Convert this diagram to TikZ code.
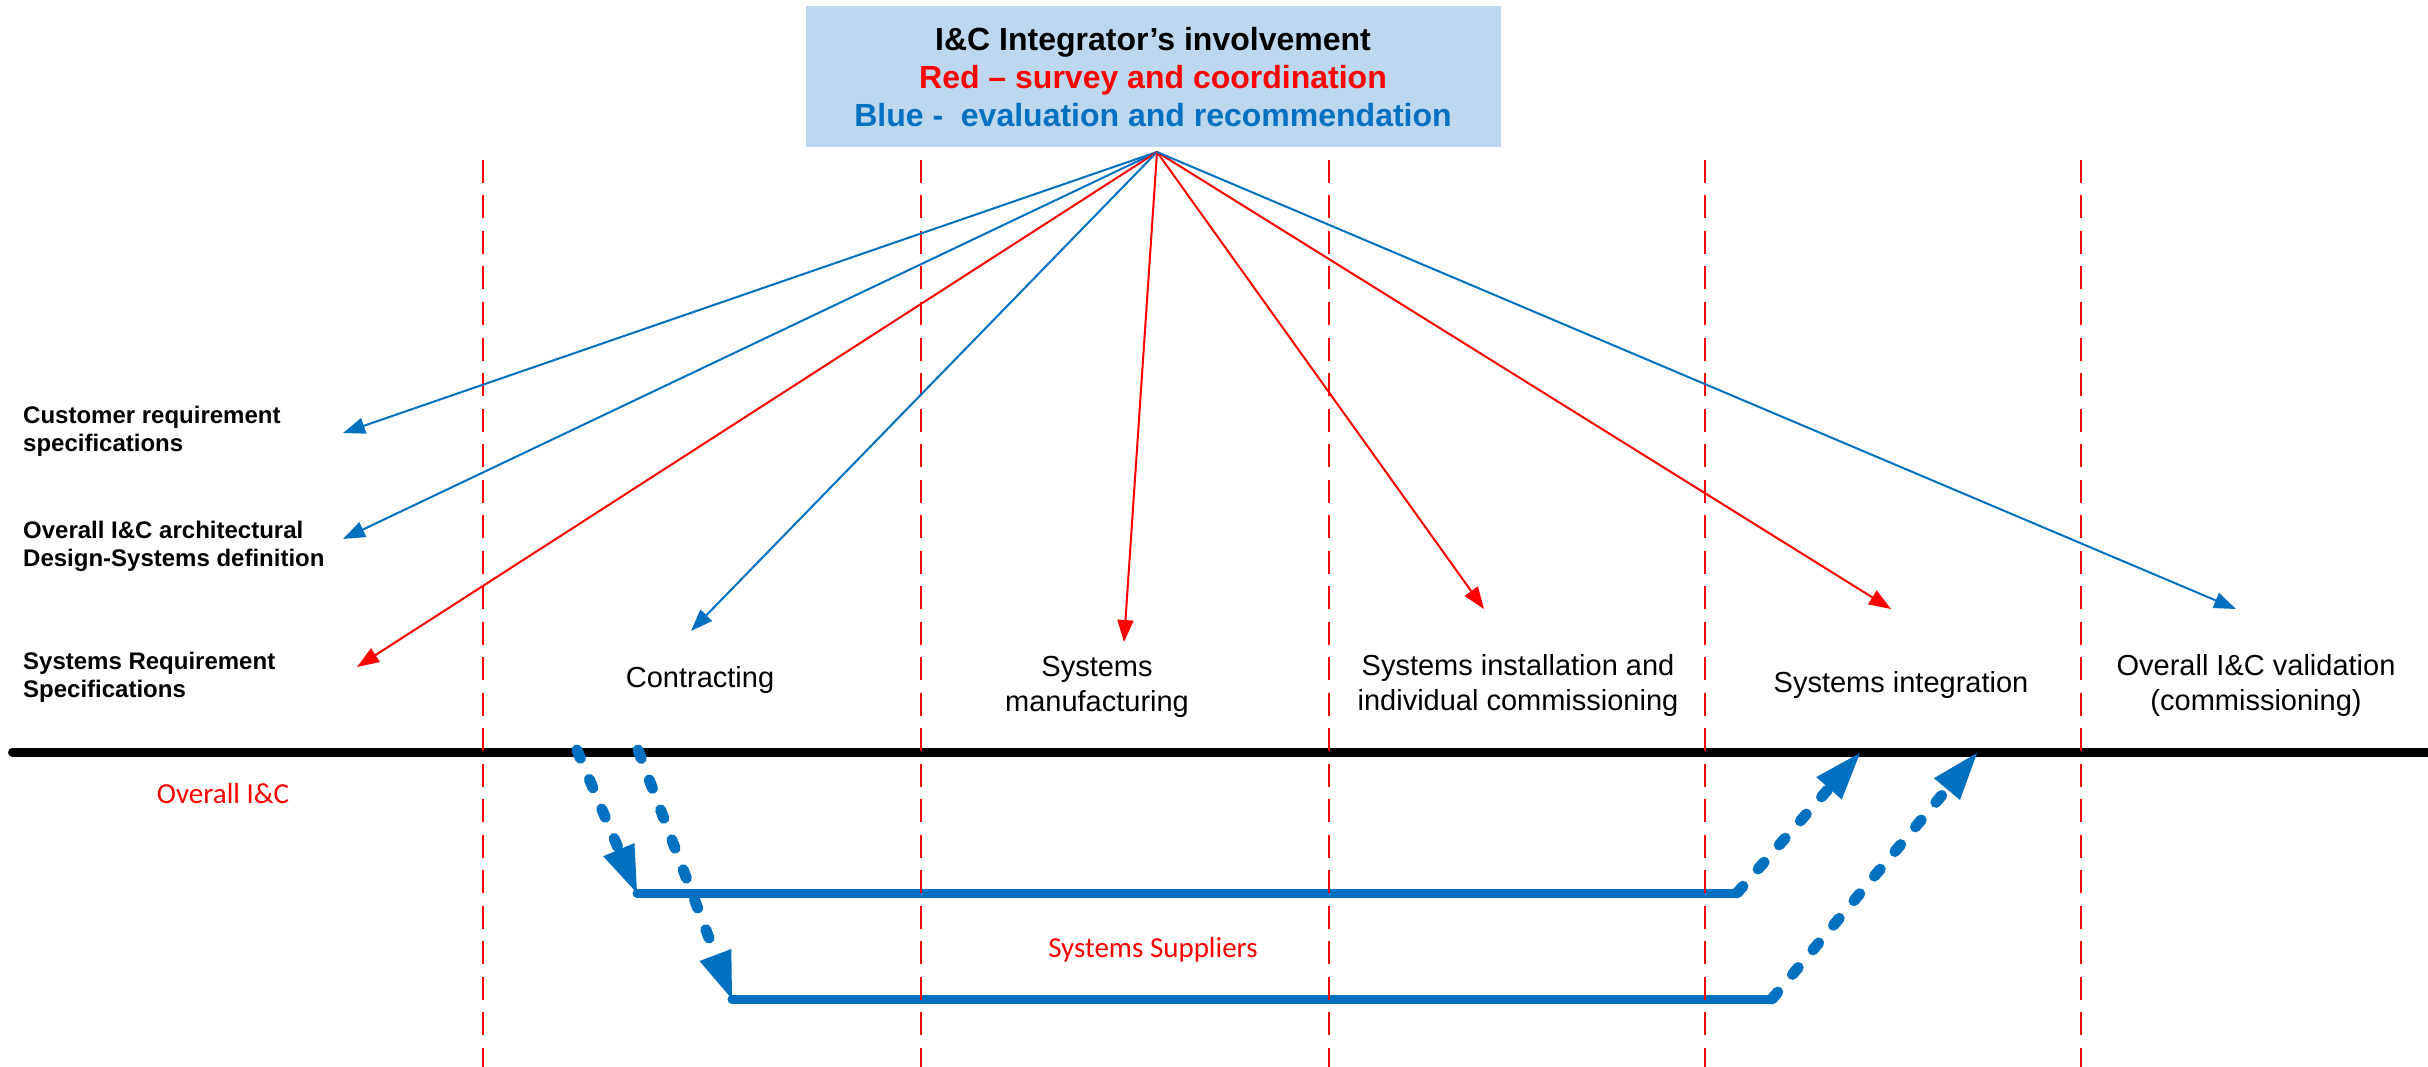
\documentclass[tikz,border=0pt]{standalone}
\usepackage{fontspec}
\setmainfont{Liberation Sans}
\newfontfamily\calib{Carlito}
\usetikzlibrary{arrows.meta}
\definecolor{ablue}{RGB}{0,112,192}
\definecolor{ared}{RGB}{255,0,0}
\definecolor{boxblue}{RGB}{189,215,238}
\begin{document}
\begin{tikzpicture}[x=1pt,y=-1pt,
  thinarrow/.style={line width=2pt,-{Triangle[length=22pt,width=16pt]}},
  fatdash/.style={ablue,line width=11pt,line cap=round,dash pattern=on 9pt off 23pt,-{Triangle[length=47pt,width=34pt,line width=0pt]}},
  supline/.style={ablue,line width=9pt,line cap=round},
  sepline/.style={ared,line width=2pt,dash pattern=on 23pt off 12.5pt},
  leftlbl/.style={font=\fontsize{24pt}{28pt}\selectfont\bfseries,align=left,anchor=west,inner sep=0pt},
  phaselbl/.style={font=\fontsize{29pt}{35pt}\selectfont,align=center,inner sep=0pt},
  redlbl/.style={ared,font=\calib\fontsize{29pt}{35pt}\selectfont,anchor=base,inner sep=0pt}]
\useasboundingbox (0,0) rectangle (2428,1067);
\fill[white] (0,0) rectangle (2428,1067);

% title
\node[fill=boxblue, minimum width=695pt, minimum height=141pt, inner sep=0pt, align=center,
      font=\fontsize{32pt}{38pt}\selectfont\bfseries] (title) at (1153,77)
  {I\&C Integrator’s involvement\\\textcolor{ared}{Red – survey and coordination}\\\textcolor{ablue}{Blue - \ evaluation and recommendation}};
\coordinate (apex) at (1157,152);

% separators
\foreach \x/\n in {483/v1,921/v2,1329/v3,1705/v4,2081/v5}{
  \coordinate (\n t) at (\x,160);
  \coordinate (\n b) at (\x,1067);
}

% black baseline
\coordinate (bl) at (12.5,752);
\coordinate (br) at (2428,752);
\draw[line width=9pt,line cap=round] (bl) -- (br);

% supplier lines
\coordinate (s1L) at (637,893);
\coordinate (s1R) at (1737,893);
\coordinate (s2L) at (732,999);
\coordinate (s2R) at (1772,999);
\draw[supline] (s1L) -- (s1R);
\draw[supline] (s2L) -- (s2R);

% dashed transfer arrows
\coordinate (d1s) at (577,750);
\coordinate (d2s) at (638,750);
\coordinate (d3e) at (1860,753);
\coordinate (d4e) at (1977,753);
\draw[fatdash] (d1s) -- (s1L);
\draw[fatdash] (d2s) -- (s2L);
\draw[fatdash] (s1R) -- (d3e);
\draw[fatdash] (s2R) -- (d4e);

% vertical separators
\foreach \n in {v1,v2,v3,v4,v5}{
  \draw[sepline] (\n t) -- (\n b);
}

% labels
\node[leftlbl] (crs) at (23,431) {Customer requirement\\specifications};
\node[leftlbl] (arch) at (23,546) {Overall I\&C architectural\\Design-Systems definition};
\node[leftlbl] (srs) at (23,677) {Systems Requirement\\Specifications};

\node[phaselbl, anchor=base] (contr) at (700,687) {Contracting};
\node[phaselbl] (manuf) at (1097,687) {Systems\\manufacturing};
\node[phaselbl] (inst) at (1518,685) {Systems installation and\\individual commissioning};
\node[phaselbl, anchor=base] (integ) at (1901,692) {Systems integration};
\node[phaselbl] (valid) at (2256,685) {Overall I\&C validation\\(commissioning)};

\node[redlbl] (oic) at (223,803) {Overall I\&C};
\node[redlbl] (ssup) at (1153,957) {Systems Suppliers};

% fan arrows
\coordinate (t1) at (343,433);
\coordinate (t2) at (343,539);
\coordinate (t3) at (357,667);
\coordinate (t4) at (691,631);
\coordinate (t5) at (1124,642);
\coordinate (t6) at (1484,609);
\coordinate (t7) at (1891,609);
\coordinate (t8) at (2236,609);
\draw[thinarrow,ablue] (apex) -- (t1);
\draw[thinarrow,ablue] (apex) -- (t2);
\draw[thinarrow,ared] (apex) -- (t3);
\draw[thinarrow,ablue] (apex) -- (t4);
\draw[thinarrow,ared] (apex) -- (t5);
\draw[thinarrow,ared] (apex) -- (t6);
\draw[thinarrow,ared] (apex) -- (t7);
\draw[thinarrow,ablue] (apex) -- (t8);
\end{tikzpicture}
\end{document}
